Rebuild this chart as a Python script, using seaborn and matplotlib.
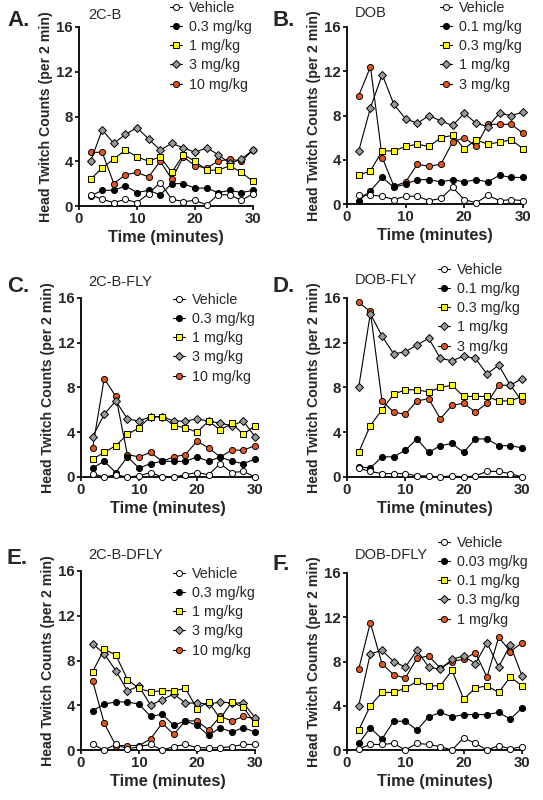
import matplotlib
matplotlib.use("Agg")
import matplotlib.pyplot as plt
import seaborn as sns


# =========================
# Data
# =========================
TIME = [2, 4, 6, 8, 10, 12, 14, 16, 18, 20, 22, 24, 26, 28, 30]

# A. 2C-B
A_TITLE = "2C-B"
A_DOSES = ["Vehicle", "0.3 mg/kg", "1 mg/kg", "3 mg/kg", "10 mg/kg"]
A_VEH = [1.0, 0.6, 0.3, 0.6, 0.3, 1.1, 2.1, 0.6, 0.4, 0.5, 0.1, 1.0, 1.0, 0.5, 1.1]
A_D1 = [0.9, 1.4, 1.4, 1.8, 1.2, 1.4, 1.0, 2.0, 2.0, 1.6, 1.6, 1.2, 1.4, 1.2, 1.4]
A_D2 = [2.4, 3.4, 4.2, 5.0, 4.4, 4.0, 4.4, 3.0, 4.6, 4.0, 3.2, 3.2, 3.6, 3.0, 2.2]
A_D3 = [4.0, 6.8, 5.6, 6.4, 7.0, 6.0, 5.0, 5.6, 5.2, 4.8, 5.2, 4.6, 3.8, 4.2, 5.0]
A_D4 = [4.8, 4.8, 2.0, 2.8, 3.0, 2.6, 4.0, 2.4, 4.4, 3.6, 3.4, 4.0, 4.2, 4.0, 5.0]

# B. DOB
B_TITLE = "DOB"
B_DOSES = ["Vehicle", "0.1 mg/kg", "0.3 mg/kg", "1 mg/kg", "3 mg/kg"]
B_VEH = [0.8, 0.8, 0.7, 0.4, 0.7, 0.7, 0.3, 0.5, 1.5, 0.4, 0.1, 0.8, 0.3, 0.4, 0.3]
B_D1 = [0.3, 1.2, 2.4, 1.5, 1.8, 2.2, 2.2, 2.0, 2.2, 2.0, 2.2, 2.0, 2.6, 2.4, 2.4]
B_D2 = [2.6, 3.0, 4.8, 4.8, 5.2, 5.4, 5.2, 6.0, 6.2, 5.0, 5.8, 5.4, 5.6, 5.8, 5.0]
B_D3 = [4.8, 8.7, 11.7, 9.0, 7.7, 7.3, 8.0, 7.5, 7.1, 8.2, 7.3, 7.0, 8.2, 8.0, 8.3]
B_D4 = [9.8, 12.4, 4.2, 1.6, 2.0, 3.6, 3.4, 3.6, 5.6, 6.0, 5.2, 7.2, 7.2, 7.2, 6.4]

# C. 2C-B-FLY
C_TITLE = "2C-B-FLY"
C_DOSES = ["Vehicle", "0.3 mg/kg", "1 mg/kg", "3 mg/kg", "10 mg/kg"]
C_VEH = [0.3, 0.0, 0.2, 0.0, 0.1, 0.4, 0.0, 0.0, 0.2, 0.4, 0.2, 1.2, 0.4, 0.5, 0.0]
C_D1 = [0.8, 1.4, 0.4, 1.8, 0.8, 1.2, 1.4, 1.4, 1.4, 1.8, 1.4, 1.8, 1.4, 1.2, 1.6]
C_D2 = [1.6, 2.2, 2.8, 3.8, 4.4, 5.4, 5.4, 4.6, 4.4, 4.0, 5.0, 4.2, 4.8, 3.8, 4.6]
C_D3 = [3.6, 5.6, 6.8, 5.2, 5.0, 5.4, 5.4, 5.0, 5.0, 5.2, 5.0, 4.8, 4.6, 5.0, 3.6]
C_D4 = [2.6, 8.8, 7.2, 2.0, 1.8, 2.2, 1.4, 1.8, 2.0, 3.2, 2.6, 1.8, 2.4, 2.4, 2.8]

# D. DOB-FLY
D_TITLE = "DOB-FLY"
D_DOSES = ["Vehicle", "0.1 mg/kg", "0.3 mg/kg", "1 mg/kg", "3 mg/kg"]
D_VEH = [0.8, 0.5, 0.3, 0.3, 0.3, 0.1, 0.1, 0.0, 0.1, 0.0, 0.1, 0.5, 0.5, 0.3, 0.0]
D_D1 = [0.9, 0.8, 1.8, 1.8, 2.4, 3.4, 2.2, 2.8, 3.0, 2.2, 3.4, 3.4, 2.8, 2.8, 2.6]
D_D2 = [2.2, 4.6, 6.0, 7.4, 7.8, 7.8, 7.6, 8.0, 8.2, 7.2, 7.2, 7.2, 6.8, 6.8, 7.2]
D_D3 = [8.0, 14.6, 12.6, 11.0, 11.2, 11.8, 12.4, 10.6, 10.4, 10.8, 10.6, 9.2, 10.0, 8.2, 8.8]
D_D4 = [15.6, 14.8, 6.8, 5.8, 5.6, 6.8, 7.0, 5.2, 6.4, 6.6, 5.8, 6.6, 8.2, 8.2, 6.8]

# E. 2C-B-DFLY
E_TITLE = "2C-B-DFLY"
E_DOSES = ["Vehicle", "0.3 mg/kg", "1 mg/kg", "3 mg/kg", "10 mg/kg"]
E_VEH = [0.5, 0.0, 0.5, 0.1, 0.3, 0.5, 0.0, 0.3, 0.5, 0.2, 0.2, 0.2, 0.3, 0.5, 0.5]
E_D1 = [3.5, 4.1, 4.3, 4.3, 4.1, 3.0, 3.2, 2.2, 2.6, 2.2, 1.3, 2.0, 1.6, 2.0, 1.6]
E_D2 = [7.0, 9.0, 8.5, 6.3, 5.5, 5.2, 5.3, 5.3, 5.5, 3.7, 4.3, 2.8, 4.3, 3.8, 2.4]
E_D3 = [9.5, 8.6, 7.1, 5.3, 5.7, 4.0, 4.5, 5.0, 4.2, 4.2, 4.1, 4.3, 4.2, 4.2, 2.9]
E_D4 = [6.2, 2.4, 0.4, 0.4, 0.4, 1.0, 2.4, 1.4, 2.6, 2.6, 1.8, 3.0, 2.6, 3.0, 2.8]

# F. DOB-DFLY
F_TITLE = "DOB-DFLY"
F_DOSES = ["Vehicle", "0.03 mg/kg", "0.1 mg/kg", "0.3 mg/kg", "1 mg/kg"]
F_VEH = [0.1, 0.5, 0.5, 0.6, 0.0, 0.6, 0.5, 0.3, 0.0, 1.1, 0.6, 0.0, 0.4, 0.1, 0.3]
F_D1 = [0.6, 2.0, 1.0, 2.6, 2.6, 1.8, 3.0, 3.4, 3.0, 3.2, 3.2, 3.2, 3.4, 2.8, 3.8]
F_D2 = [1.8, 4.0, 5.2, 5.2, 5.6, 6.2, 5.8, 5.8, 7.2, 4.6, 5.6, 5.8, 5.2, 6.6, 5.8]
F_D3 = [4.0, 8.7, 9.0, 8.0, 7.5, 9.0, 7.5, 7.3, 8.2, 8.5, 7.8, 9.7, 7.5, 9.5, 6.7]
F_D4 = [7.3, 11.5, 7.8, 6.8, 6.5, 8.3, 8.5, 7.4, 8.0, 8.2, 8.8, 6.6, 10.2, 8.9, 9.7]

LETTERS = ["A.", "B.", "C.", "D.", "E.", "F."]
TITLES = [A_TITLE, B_TITLE, C_TITLE, D_TITLE, E_TITLE, F_TITLE]
DOSES = [A_DOSES, B_DOSES, C_DOSES, D_DOSES, E_DOSES, F_DOSES]
SERIES = [
    [A_VEH, A_D1, A_D2, A_D3, A_D4],
    [B_VEH, B_D1, B_D2, B_D3, B_D4],
    [C_VEH, C_D1, C_D2, C_D3, C_D4],
    [D_VEH, D_D1, D_D2, D_D3, D_D4],
    [E_VEH, E_D1, E_D2, E_D3, E_D4],
    [F_VEH, F_D1, F_D2, F_D3, F_D4],
]


# =========================
# Styles / layout
# =========================
MARKERS = ["o", "o", "s", "D", "o"]
FACES = ["white", "black", "#FFFF00", "#9A9A9A", "#E4561E"]
SIZES = [5.8, 5.8, 5.6, 5.2, 5.8]
ZORDERS = [7, 6, 5, 4, 3]

W, H = 543, 800
# axes boxes in pixels: left, top, right, bottom
AX_PX = [
    (79, 27, 253, 206),
    (347, 27, 523, 204),
    (81, 298, 255, 477),
    (347, 298, 522, 477),
    (81, 571, 255, 750),
    (347, 573, 522, 750),
]
# legend anchor (handle left, top) in pixels
LEG_PX = [(170, 1), (440, 1), (173, 293), (438, 263), (173, 567), (438, 536)]
# title centre-left and letter position in pixels
TITLE_PX = [(88, 15), (355, 13), (88, 282), (355, 280), (88, 555), (355, 555)]
LETTER_PX = [(7, 21), (272, 21), (7, 286), (272, 286), (7, 558), (272, 564)]

sns.set_style("ticks")
plt.rcParams["font.family"] = ["Liberation Sans", "DejaVu Sans"]

fig = plt.figure(figsize=(W / 100, H / 100), dpi=100)

for i in range(6):
    l, t, r, b = AX_PX[i]
    ax = fig.add_axes([l / W, 1 - b / H, (r - l) / W, (b - t) / H])

    for j in range(5):
        sns.lineplot(
            x=TIME,
            y=SERIES[i][j],
            ax=ax,
            color="black",
            linewidth=0.8,
            marker=MARKERS[j],
            markersize=SIZES[j],
            markerfacecolor=FACES[j],
            markeredgecolor="black",
            markeredgewidth=0.7,
            label=DOSES[i][j],
            zorder=ZORDERS[j],
            clip_on=False,
        )

    ax.set_xlim(0, 30)
    ax.set_ylim(0, 16)
    ax.set_xticks([0, 10, 20, 30])
    ax.set_yticks([0, 4, 8, 12, 16])
    sns.despine(ax=ax)
    for side in ["left", "bottom"]:
        ax.spines[side].set_linewidth(1.3)
        ax.spines[side].set_color("black")
    ax.tick_params(axis="both", length=3, width=1.2, color="black",
                   labelsize=10.8, pad=1.5)
    for lab in ax.get_xticklabels() + ax.get_yticklabels():
        lab.set_fontweight("bold")

    ax.set_xlabel("Time (minutes)", fontsize=11.8, fontweight="bold", labelpad=3)
    ax.set_ylabel("Head Twitch Counts (per 2 min)", fontsize=10.2,
                  fontweight="bold", labelpad=2)

    lx, ly = LEG_PX[i]
    handles, labels = ax.get_legend_handles_labels()
    for h in handles:
        h.set_markersize(4.4)
    ax.legend(
        handles, labels,
        loc="upper left",
        bbox_to_anchor=((lx - l) / (r - l), 1 + (t - ly) / (b - t)),
        frameon=False,
        fontsize=10.3,
        handlelength=0.85,
        handletextpad=0.45,
        labelspacing=0.36,
        borderpad=0,
        borderaxespad=0,
    )

    tx, ty = TITLE_PX[i]
    fig.text(tx / W, 1 - ty / H, TITLES[i], fontsize=10.5, ha="left", va="center")
    px, py = LETTER_PX[i]
    fig.text(px / W, 1 - py / H, LETTERS[i], fontsize=16, fontweight="bold",
             ha="left", va="center")

plt.savefig("out.png", dpi=100)
plt.close()
